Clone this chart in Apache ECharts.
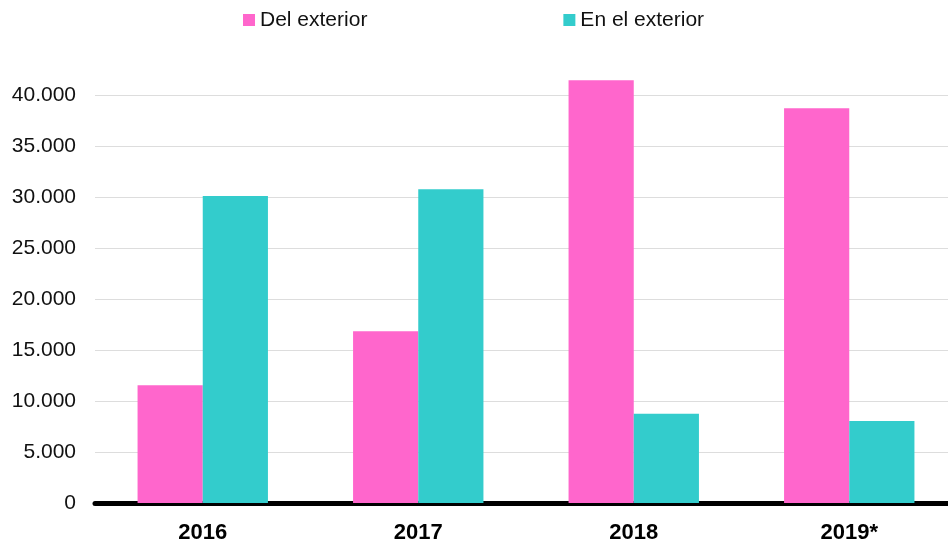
<!DOCTYPE html>
<html><head><meta charset="utf-8">
<script src="https://cdn.jsdelivr.net/npm/echarts@6/dist/echarts.min.js"></script>
<style>html,body{margin:0;padding:0;background:#fff}#c{width:948px;height:540px}</style>
</head><body><div id="c"></div>
<script>
const categories = ['2016', '2017', '2018', '2019*'];
const delExterior = [11550, 16850, 41450, 38700];
const enElExterior = [30100, 30750, 8750, 8050];
const seriesNames = ['Del exterior', 'En el exterior'];

const chart = echarts.init(document.getElementById('c'));
const font = '"Liberation Sans", Arial, Helvetica, sans-serif';
chart.setOption({
  animation: false,
  textStyle: { fontFamily: font },
  legend: {
    left: 238, top: 4.5,
    itemWidth: 12, itemHeight: 12, itemGap: 196,
    icon: 'rect',
    textStyle: { fontSize: 21, color: '#111', fontFamily: font },
    data: seriesNames
  },
  grid: { left: 95, right: -9, top: 44, bottom: 37, containLabel: false, outerBoundsMode: 'none' },
  xAxis: {
    type: 'category', data: categories,
    axisLine: { show: true, lineStyle: { color: '#000', width: 5 } },
    axisTick: { show: false },
    axisLabel: { fontSize: 22, fontWeight: 'bold', color: '#000', margin: 19, fontFamily: font }
  },
  yAxis: {
    type: 'value', min: 0, max: 45000, interval: 5000,
    axisLine: { show: false }, axisTick: { show: false },
    splitLine: { lineStyle: { color: '#dddddd', width: 1 }, showMaxLine: false, showMinLine: false },
    axisLabel: {
      fontSize: 21, color: '#111', margin: 19, fontFamily: font,
      showMaxLabel: false,
      formatter: v => v === 0 ? '0' : v.toLocaleString('de-DE')
    }
  },
  series: [
    { name: seriesNames[0], type: 'bar', data: delExterior, barGap: '0%', barCategoryGap: '39.5%',
      itemStyle: { color: '#FF66CC' } },
    { name: seriesNames[1], type: 'bar', data: enElExterior, barGap: '0%', barCategoryGap: '39.5%',
      itemStyle: { color: '#33CCCC' } }
  ]
});
</script></body></html>
